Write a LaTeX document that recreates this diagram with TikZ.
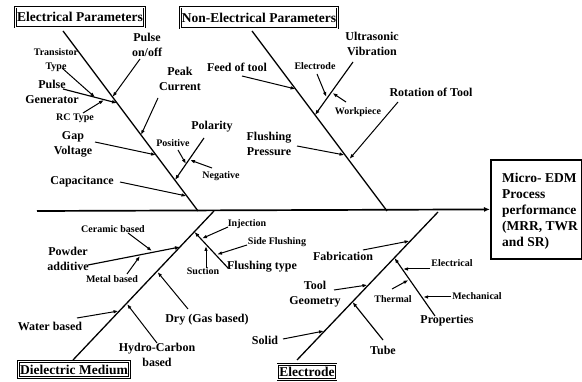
\documentclass[tikz,border=0pt]{standalone}
\usepackage{fontspec}
\setmainfont{Liberation Serif}
\usetikzlibrary{arrows.meta,calc}
\tikzset{
  lbl/.style={font=\fontsize{12}{14.5}\selectfont\bfseries,align=center,inner sep=0pt},
  smalllbl/.style={font=\fontsize{10}{14}\selectfont\bfseries,align=center,inner sep=0pt},
  catbox/.style={draw,double,double distance=0.9pt,line width=0.9pt,
                 font=\fontsize{13.5}{15}\selectfont\bfseries,inner xsep=1.5pt,inner ysep=1pt},
  outbox/.style={draw,line width=1.8pt},
  outtext/.style={font=\fontsize{13.5}{16}\selectfont\bfseries,align=left,inner sep=0pt},
  bone/.style={line width=1.3pt},
  spinearr/.style={line width=1.7pt,-{Latex[length=6pt,width=5pt]}},
  subarr/.style={line width=1.15pt,-{Latex[length=5pt,width=3.8pt]}},
  twigarr/.style={line width=1pt,-{Latex[length=5pt,width=3.6pt]}}
}
\begin{document}
\begin{tikzpicture}[x=1pt,y=-1pt]
  \path[use as bounding box] (0,0) rectangle (582,382);
  % effect box and spine
  \node[outbox,minimum width=91,minimum height=99,anchor=north west] (result) at (490,159) {};
  \node[outtext,anchor=west] (resulttxt) at (502,211)
    {Micro- EDM\\Process\\performance\\(MRR, TWR\\and SR)};
  \coordinate (s0) at (37,211);
  \draw[spinearr] (s0) -- (result.west);
  % category boxes
  \node[catbox,minimum height=20] (elecbox) at (80,17) {Electrical Parameters};
  \node[catbox,minimum height=21] (nonbox) at (259,17.5) {Non-Electrical Parameters};
  \node[catbox,minimum height=16] (dielbox) at (74,369.5) {Dielectric Medium};
  \node[catbox,minimum height=15] (electbox) at (307,372) {Electrode};
  % main bones
  \foreach \n/\x/\y in {e0/63/31, e1/198/211, n0/252/31, n1/387/211,
                        d0/73/360, d1/214/211, l0/297/360, l1/438/212}
    \coordinate (\n) at (\x,\y);
  \foreach \a/\b in {e0/e1, n0/n1, d0/d1, l0/l1}
    \draw[bone] (\a) -- (\b);
  % ends of sub-bones and twigs (T = tail, H = head)
  \foreach \n/\x/\y in {
      genT/63/89, genH/117/103, polT/204/138, polH/175/180,
      ultraT/353/62, ultraH/315/115, powderT/88/265, powderH/180/247,
      flushT/228/268, flushH/194.5/232, propT/435/316, propH/394.5/258,
      tubeT/383/340, tubeH/352.5/302}
    \coordinate (\n) at (\x,\y);
  \foreach \n/\x/\y in {
      pulseT/140/59, pulseH/112.5/97, transT/62/68, transH/95/97.3,
      rcT/83/113, rcH/104/100, peakT/158/98, peakH/141/135,
      gapT/95/142, gapH/156/155, posT/178/150, posH/186/164,
      negT/212/168, negH/190/160, capT/120/182, capH/186.5/196,
      feedT/242/76, feedH/295.5/89, electrodeT/317/74, electrodeH/326.5/97,
      workT/346/102, workH/332.5/93, rotT/398/102, rotH/349.5/159,
      flushpT/297/146, flushpH/344.5/155,
      ceramicT/128/233, ceramicH/152/251, metalT/127/274, metalH/140/256,
      injT/228/227, injH/202/238.5, sideT/247/245, sideH/217/254.5,
      suctT/206/268, suctH/206/246, dryT/188/309, dryH/157.5/272,
      waterT/77/318, waterH/118.5/311, hydroT/157/343, hydroH/127/304,
      fabT/363/250, fabH/409.5/241, geomT/334/290, geomH/367.5/285,
      elecT/430/269, elecH/403/269, thermT/392/289, thermH/408.5/280,
      mechT/451/297, mechH/423.2/297, solidT/283/339, solidH/324/331}
    \coordinate (\n) at (\x,\y);
  \foreach \a/\b in {genT/genH, polT/polH, ultraT/ultraH, powderT/powderH,
                     flushT/flushH, propT/propH, tubeT/tubeH}
    \draw[subarr] (\a) -- (\b);
  \foreach \a/\b in {pulseT/pulseH, transT/transH, rcT/rcH, peakT/peakH,
                     gapT/gapH, posT/posH, negT/negH, capT/capH,
                     feedT/feedH, electrodeT/electrodeH, workT/workH,
                     rotT/rotH, flushpT/flushpH, ceramicT/ceramicH,
                     metalT/metalH, injT/injH, sideT/sideH, suctT/suctH,
                     dryT/dryH, waterT/waterH, hydroT/hydroH, fabT/fabH,
                     geomT/geomH, elecT/elecH, thermT/thermH, mechT/mechH,
                     solidT/solidH}
    \draw[twigarr] (\a) -- (\b);
  % labels: electrical parameters
  \node[lbl] (pulseL) at (147,45) {Pulse\\on/off};
  \node[smalllbl] (transL) at (56,60) {Transistor\\Type};
  \node[lbl] (genL) at (52,92) {Pulse\\Generator};
  \node[smalllbl] (rcL) at (75,118) {RC Type};
  \node[lbl] (peakL) at (180,79) {Peak\\Current};
  \node[lbl] (gapL) at (73,144.5) {Gap\\Voltage};
  \node[lbl] (polL) at (212,127) {Polarity};
  \node[smalllbl] (posL) at (173,143) {Positive};
  \node[smalllbl] (negL) at (221,176) {Negative};
  \node[lbl] (capL) at (82,182) {Capacitance};
  % labels: non-electrical parameters
  \node[lbl] (feedL) at (237,67) {Feed of tool};
  \node[lbl] (ultraL) at (372,44) {Ultrasonic\\Vibration};
  \node[smalllbl] (electrodeL) at (315,66) {Electrode};
  \node[smalllbl] (workL) at (358,112) {Workpiece};
  \node[lbl] (rotL) at (431,92) {Rotation of Tool};
  \node[lbl] (flushpL) at (269,144) {Flushing\\Pressure};
  % labels: dielectric medium
  \node[lbl] (powderL) at (68,259) {Powder\\additive};
  \node[smalllbl] (ceramicL) at (113,229) {Ceramic based};
  \node[smalllbl] (metalL) at (112,279) {Metal based};
  \node[smalllbl] (injL) at (247,224) {Injection};
  \node[smalllbl] (sideL) at (277,242) {Side Flushing};
  \node[smalllbl] (suctL) at (203,271) {Suction};
  \node[lbl] (flushL) at (262,267) {Flushing type};
  \node[lbl] (dryL) at (207,320) {Dry (Gas based)};
  \node[lbl] (waterL) at (50,326) {Water based};
  \node[lbl] (hydroL) at (157,355) {Hydro-Carbon\\based};
  % labels: electrode
  \node[lbl] (fabL) at (343,256) {Fabrication};
  \node[lbl] (geomL) at (315,294) {Tool\\Geometry};
  \node[smalllbl] (elecL) at (452,263) {Electrical};
  \node[smalllbl] (thermL) at (393,299) {Thermal};
  \node[smalllbl] (mechL) at (477,296) {Mechanical};
  \node[lbl] (propL) at (447,321) {Properties};
  \node[lbl] (tubeL) at (383,350) {Tube};
  \node[lbl] (solidL) at (265,340) {Solid};
\end{tikzpicture}
\end{document}
